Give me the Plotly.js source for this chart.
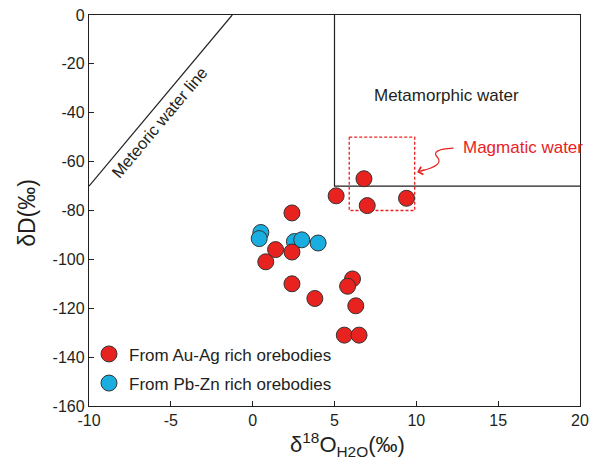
<!DOCTYPE html>
<html>
<head>
<meta charset="utf-8">
<script src="https://cdn.plot.ly/plotly-3.0.1.min.js"></script>
<style>html,body{margin:0;padding:0;background:#fff;}#chart{width:596px;height:460px;}</style>
</head>
<body>
<div id="chart"></div>
<script>
// Au-Ag rich orebodies
const auAgX = [6.8, 5.1, 7.0, 9.4, 2.4, 1.4, 2.4, 0.8, 2.4, 3.8, 6.1, 5.8, 6.3, 5.6, 6.5];
const auAgY = [-67, -74, -78, -75, -81, -96, -97, -101, -110, -116, -108, -111, -119, -131, -131];
// Pb-Zn rich orebodies
const pbZnX = [0.5, 0.4, 2.55, 3.0, 4.0];
const pbZnY = [-89, -91.5, -92.7, -92, -93.3];
// Meteoric water line endpoints (dD = 8 d18O + 10)
const meteoricX = [-10, -1.25];
const meteoricY = [-70, 0];
// Metamorphic water field boundary
const metamorphicX = [5, 5, 20];
const metamorphicY = [0, -70, -70];
// Magmatic water field box
const magmaticX = [5.9, 9.9];
const magmaticY = [-50, -80];
const xTicks = [-10, -5, 0, 5, 10, 15, 20];
const yTicks = [0, -20, -40, -60, -80, -100, -120, -140, -160];

const FONT = 'Liberation Sans, Arial, Helvetica, sans-serif';
const INK = '#231f20';

const traces = [
  {x: meteoricX, y: meteoricY, mode: 'lines', line: {color: INK, width: 1.2}, showlegend: false, hoverinfo: 'skip'},
  {x: metamorphicX, y: metamorphicY, mode: 'lines', line: {color: INK, width: 1.2}, showlegend: false, hoverinfo: 'skip'},
  {x: [magmaticX[0], magmaticX[1], magmaticX[1], magmaticX[0], magmaticX[0]],
   y: [magmaticY[0], magmaticY[0], magmaticY[1], magmaticY[1], magmaticY[0]],
   mode: 'lines', line: {color: '#e8231f', width: 1.3, dash: '3px,2px'}, showlegend: false, hoverinfo: 'skip'},
  {x: pbZnX, y: pbZnY, mode: 'markers', name: 'From Pb-Zn rich orebodies', legendrank: 2, legendgroup: 'b',
   marker: {color: '#1aaee0', size: 16, line: {color: '#333', width: 1}}},
  {x: auAgX, y: auAgY, mode: 'markers', name: 'From Au-Ag rich orebodies', legendrank: 1, legendgroup: 'a',
   marker: {color: '#e8231f', size: 16, line: {color: '#333', width: 1}}}
];

const layout = {
  width: 596, height: 460,
  margin: {l: 89, r: 16, t: 15, b: 54},
  paper_bgcolor: '#fff', plot_bgcolor: '#fff',
  font: {family: FONT, size: 16, color: INK},
  showlegend: true,
  legend: {x: 0.0, y: 0.178, xanchor: 'left', yanchor: 'top', bgcolor: 'rgba(0,0,0,0)',
           font: {size: 17, color: INK}, tracegroupgap: 4, traceorder: 'grouped'},
  xaxis: {range: [-10, 20], tickvals: xTicks, ticktext: xTicks.map(String), ticks: 'inside', ticklen: 5,
          tickcolor: INK, showline: true, linecolor: INK, linewidth: 1.2, mirror: true, showgrid: false,
          zeroline: false, tickfont: {size: 16}},
  yaxis: {range: [-160, 0], tickvals: yTicks, ticktext: yTicks.map(String), ticks: 'inside', ticklen: 5,
          tickcolor: INK, showline: true, linecolor: INK, linewidth: 1.2, mirror: true, showgrid: false,
          zeroline: false, tickfont: {size: 16}},
  shapes: [
    {type: 'path', xref: 'x', yref: 'y', path: 'M 12.27,-54.5 Q 10.8,-55 11.3,-58.3 Q 11.7,-61.5 10.3,-63.8',
     line: {color: '#e8231f', width: 1.2}}
  ],
  annotations: [
    {x: 10.05, y: -64.3, ax: 10.6, ay: -63.2, axref: 'x', ayref: 'y', xref: 'x', yref: 'y', text: '',
     showarrow: true, arrowhead: 4, arrowsize: 1.3, arrowwidth: 1.2, arrowcolor: '#e8231f'},
    {x: 12.75, y: -54.1, xref: 'x', yref: 'y', text: 'Magmatic water', showarrow: false, xanchor: 'left',
     font: {size: 17, color: '#e8231f'}},
    {x: 11.84, y: -32.8, xref: 'x', yref: 'y', text: 'Metamorphic water', showarrow: false,
     font: {size: 17, color: INK}},
    {x: -5.75, y: -44.0, xref: 'x', yref: 'y', text: 'Meteoric water line', showarrow: false, textangle: -50,
     font: {size: 16.5, color: INK}},
    {x: 0.527, y: -0.099, xref: 'paper', yref: 'paper', xanchor: 'center', yanchor: 'middle',
     text: 'δ<sup>18</sup>O<sub>H2O</sub>(‰)', showarrow: false, font: {size: 22, color: INK}},
    {x: -0.125, y: 0.493, xref: 'paper', yref: 'paper', xanchor: 'center', yanchor: 'middle',
     text: 'δD(‰)', showarrow: false, textangle: -90, font: {size: 23, color: INK}}
  ]
};

Plotly.newPlot('chart', traces, layout, {staticPlot: true, displayModeBar: false});
</script>
</body>
</html>
